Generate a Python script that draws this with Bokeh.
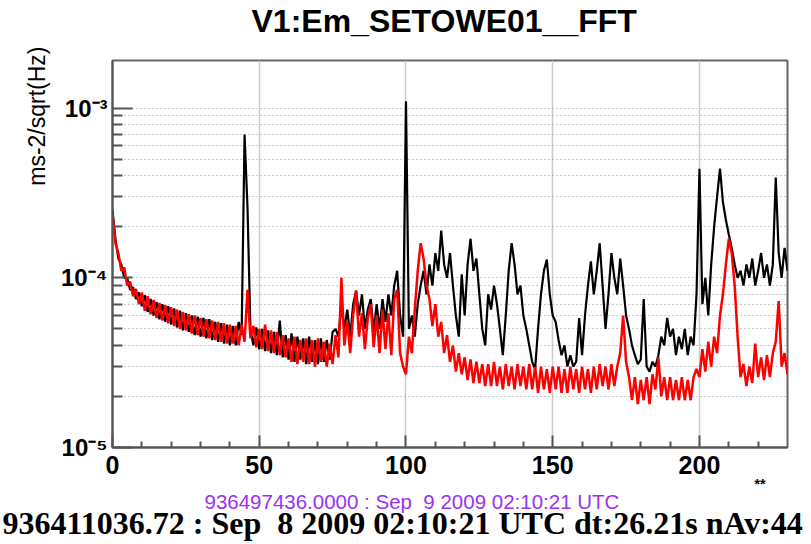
import numpy as np
from bokeh.plotting import figure
from bokeh.models import FixedTicker, Range1d, CustomJSTickFormatter, Title
from bokeh.embed import file_html
from bokeh.resources import INLINE

# ---------------- data (amplitudes in units of 1e-5 ms-2/sqrt(Hz)) ----------------
freq = list(range(0, 231))

black_e5 = [
    25, 17, 13, 12, 10, 10, 8.5, 8.8, 7.5, 8.2,
    6.8, 7.9, 6.3, 7.5, 6.0, 7.2, 5.7, 7.0, 5.5, 6.8,
    5.3, 6.6, 5.1, 6.4, 4.9, 6.2, 4.8, 6.0, 4.6, 5.9,
    4.5, 5.8, 4.4, 5.7, 4.3, 5.5, 4.2, 5.4, 4.1, 5.3,
    4.0, 5.2, 4.0, 5.5, 4.6, 70, 26, 5.0, 4.0, 5.1,
    3.8, 5.0, 3.7, 4.9, 3.6, 4.8, 3.5, 5.6, 3.4, 4.6,
    3.3, 4.7, 3.2, 4.5, 3.3, 4.4, 3.1, 4.5, 3.2, 4.3,
    3.1, 4.4, 3.2, 4.3, 3.3, 4.8, 5.0, 4.5, 7.0, 5.0,
    6.5, 4.5, 7.0, 8.4, 6.0, 8.0, 5.0, 6.5, 7.5, 4.8,
    7.0, 5.0, 7.5, 5.5, 8.0, 6.0, 9.0, 11, 6.0, 4.5,
    110, 5.0, 6.0, 4.5, 7.0, 9.0, 11, 8.0, 12, 9.0,
    14, 11, 19, 12, 10, 14, 9.0, 6.0, 4.5, 10.5,
    6.0, 12, 17, 11, 13, 8.0, 5.0, 4.0, 8.0, 6.5,
    9.0, 7.0, 5.0, 3.5, 6.0, 11, 16, 12, 8.0, 9.0,
    6.0, 5.0, 4.0, 3.2, 2.9, 5.0, 8.0, 11, 12.8, 8.0,
    6.0, 5.5, 4.3, 3.5, 4.0, 3.0, 3.5, 3.0, 3.2, 5.8,
    3.5, 6.0, 9.0, 12.5, 8.0, 11, 16, 9.0, 5.0, 8.0,
    14, 10, 8.0, 13, 9.0, 6.0, 5.0, 4.0, 3.5, 3.1,
    3.3, 7.5, 3.0, 2.8, 3.2, 3.0, 3.5, 4.5, 4.0, 5.8,
    4.5, 5.0, 3.5, 4.5, 3.8, 5.0, 3.5, 4.5, 4.0, 8.0,
    44, 7.0, 10, 6.0, 12, 20, 30, 44, 28, 22,
    18, 15, 12, 10, 11, 9.0, 12, 10, 13, 9.0,
    11, 14, 10, 12, 9.0, 12, 39, 14, 10, 15,
    11,
]

red_e5 = [
    24, 16, 14, 11, 11.5, 9, 9.5, 7.8, 8.6, 7,
    8.2, 6.4, 7.8, 6.1, 7.4, 5.8, 7.1, 5.6, 6.9, 5.4,
    6.7, 5.2, 6.5, 5.0, 6.3, 4.9, 6.1, 4.7, 6.0, 4.6,
    5.8, 4.5, 5.7, 4.4, 5.6, 4.3, 5.5, 4.2, 5.4, 4.1,
    5.3, 4.1, 5.2, 4.0, 5.3, 4.2, 8.5, 4.4, 5.2, 3.9,
    5.0, 3.8, 5.3, 3.7, 4.9, 3.6, 4.8, 3.5, 4.6, 3.4,
    4.4, 3.2, 4.5, 3.1, 4.3, 3.2, 4.4, 3.1, 4.3, 3.0,
    4.4, 3.2, 4.2, 3.0, 4.1, 3.1, 4.6, 3.4, 10, 4.0,
    5.5, 3.6, 6.0, 8.4, 4.5, 6.2, 3.8, 5.8, 7.0, 3.9,
    6.0, 3.6, 6.5, 3.8, 6.2, 3.5, 7.5, 8.5, 3.6, 3.0,
    2.7, 4.5, 3.6, 6.5, 11, 16, 13, 9, 7.5, 5.2,
    7, 4.5, 5.5, 3.6, 4.6, 3.2, 4.0, 2.8, 3.6, 2.7,
    3.4, 2.5, 3.3, 2.4, 3.2, 2.4, 3.1, 2.3, 3.1, 2.3,
    3.2, 2.3, 3.0, 2.2, 3.1, 2.3, 3.0, 2.2, 3.1, 2.3,
    3.0, 2.2, 3.1, 2.2, 3.0, 2.1, 3.0, 2.2, 2.9, 2.1,
    3.0, 2.2, 3.0, 2.1, 2.9, 2.1, 3.0, 2.2, 2.9, 2.1,
    3.0, 2.2, 2.9, 2.1, 3.0, 2.2, 3.1, 2.3, 3.0, 2.2,
    3.1, 2.3, 3.0, 3.6, 6.0, 3.2, 2.6, 1.9, 2.6, 1.8,
    2.5, 1.9, 2.6, 1.8, 2.7, 2.2, 3.4, 2.0, 2.6, 1.9,
    2.6, 1.9, 2.5, 1.9, 2.6, 1.9, 2.5, 1.9, 2.6, 2.9,
    2.6, 3.8, 2.8, 4.2, 3.0, 4.5, 3.6, 6.0, 8.0, 12,
    17, 14, 9, 4.5, 2.6, 3.1, 2.3, 3.0, 2.4, 4.1,
    2.6, 3.4, 2.5, 3.5, 2.6, 3.6, 4.2, 7.3, 3.0, 3.6,
    2.7,
]

y_major = [1e-5, 1e-4, 1e-3]
y_minor = [k * 10.0 ** e for e in (-5, -4) for k in range(2, 10)]
x_major = [0, 50, 100, 150, 200]
x_minor = [10, 20, 30, 40, 60, 70, 80, 90, 110, 120, 130, 140,
           160, 170, 180, 190, 210, 220]

title_text = "V1:Em_SETOWE01__FFT"
ylabel_text = "ms-2/sqrt(Hz)"
xmark_text = "**"
ref_text = "936497436.0000 : Sep\u00a0 9 2009 02:10:21 UTC"
cur_text = "936411036.72 : Sep\u00a0 8 2009 02:10:21 UTC dt:26.21s nAv:44"

black = np.array(black_e5) * 1e-5
red = np.array(red_e5) * 1e-5

# ---------------- figure ----------------
p = figure(width=811, height=544, x_range=Range1d(0, 230),
           y_range=Range1d(1e-5, 1.91e-3), y_axis_type="log",
           output_backend="svg", toolbar_location=None,
           min_border_left=112, min_border_right=24,
           min_border_top=59, min_border_bottom=97)
p.background_fill_color = "white"
p.border_fill_color = "white"
p.outline_line_color = "#666666"
p.outline_line_width = 2

# main title (outermost) and a blank spacer between it and the frame
p.title.text = title_text
p.title.align = "left"
p.title.offset = 139
p.title.standoff = 0
p.title.text_font = "Liberation Sans"
p.title.text_font_style = "bold"
p.title.text_font_size = "32px"
p.title.text_color = "black"
p.add_layout(Title(text=" ", text_font_size="14px", standoff=4), "above")

# y axis
p.yaxis.ticker = FixedTicker(ticks=y_major, minor_ticks=y_minor)
p.yaxis.formatter = CustomJSTickFormatter(code="""
const e = Math.round(Math.log10(tick));
const sup = {'-': '\\u207b', '0': '\\u2070', '1': '\\u00b9', '2': '\\u00b2',
             '3': '\\u00b3', '4': '\\u2074', '5': '\\u2075', '6': '\\u2076',
             '7': '\\u2077', '8': '\\u2078', '9': '\\u2079'};
return '10' + String(e).split('').map(c => sup[c]).join('');
""")
p.yaxis.major_label_text_font = "Liberation Sans"
p.yaxis.major_label_text_font_style = "bold"
p.yaxis.major_label_text_font_size = "24px"
p.yaxis.major_label_text_color = "black"
p.yaxis.major_label_standoff = 5
p.yaxis.major_tick_in = 20
p.yaxis.major_tick_out = 0
p.yaxis.minor_tick_in = 10
p.yaxis.minor_tick_out = 0
p.yaxis.axis_line_color = "#555555"
p.yaxis.axis_line_width = 2
p.yaxis.major_tick_line_color = "#555555"
p.yaxis.minor_tick_line_color = "#555555"
p.yaxis.major_tick_line_width = 2
p.yaxis.minor_tick_line_width = 2

# x axis
p.xaxis.ticker = FixedTicker(ticks=x_major, minor_ticks=x_minor)
p.xaxis.major_tick_in = 12
p.xaxis.major_tick_out = 0
p.xaxis.minor_tick_in = 6
p.xaxis.minor_tick_out = 0
p.xaxis.axis_line_color = "#555555"
p.xaxis.axis_line_width = 2
p.xaxis.major_tick_line_color = "#555555"
p.xaxis.minor_tick_line_color = "#555555"
p.xaxis.major_tick_line_width = 2
p.xaxis.minor_tick_line_width = 2
p.xaxis.major_label_text_font = "Liberation Sans"
p.xaxis.major_label_text_font_style = "bold"
p.xaxis.major_label_text_font_size = "25px"
p.xaxis.major_label_text_color = "black"
p.xaxis.major_label_standoff = 8

# grids
p.xgrid.ticker = FixedTicker(ticks=x_major)
p.xgrid.grid_line_color = "#cccccc"
p.xgrid.grid_line_width = 1.5
p.ygrid.ticker = FixedTicker(ticks=y_major, minor_ticks=y_minor)
p.ygrid.grid_line_color = "#999999"
p.ygrid.grid_line_dash = "1 3"
p.ygrid.minor_grid_line_color = "#999999"
p.ygrid.minor_grid_line_dash = "1 3"

# spectra
p.line(freq, black, line_color="black", line_width=2.2)
p.line(freq, red, line_color="#ff0000", line_width=2.5)

# y axis title (top end of the axis, reading upward)
p.add_layout(Title(text=ylabel_text, align="right", offset=-14, standoff=16,
                   text_font="Liberation Sans", text_font_style="normal",
                   text_font_size="23px", text_color="black"), "left")

# texts below the x axis
p.add_layout(Title(text=xmark_text, align="right", offset=22, standoff=-5,
                   text_font="Liberation Sans", text_font_style="bold",
                   text_font_size="14px", text_color="black"), "below")
p.add_layout(Title(text=ref_text, align="left", offset=92, standoff=-4,
                   text_font="Liberation Sans", text_font_style="normal",
                   text_font_size="20.5px", text_color="#9933ee"), "below")
p.add_layout(Title(text=cur_text, align="left", offset=-110, standoff=-16,
                   text_font="Liberation Serif", text_font_style="bold",
                   text_font_size="32px", text_color="black"), "below")

open("out.html", "w").write(file_html(p, INLINE))
